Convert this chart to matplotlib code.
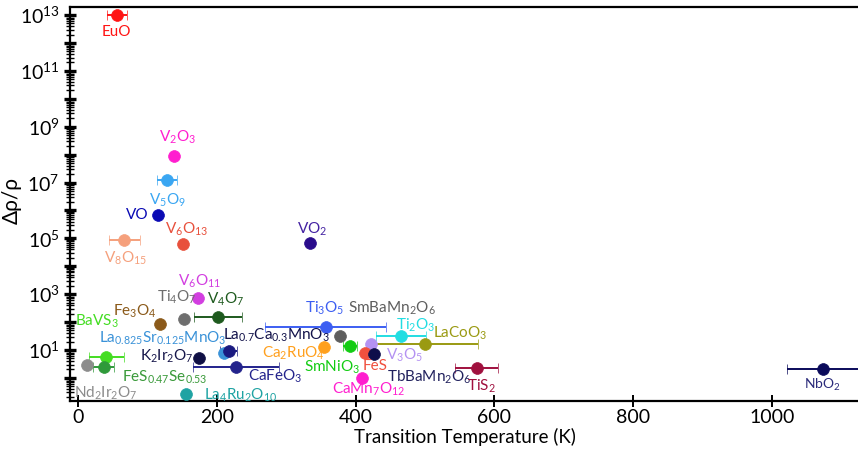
import numpy as np
import matplotlib
matplotlib.use("Agg")
import matplotlib.pyplot as plt
from matplotlib.ticker import FixedLocator, FuncFormatter, LogLocator, NullFormatter

plt.rcParams['font.family'] = ['Lato', 'DejaVu Sans']
plt.rcParams['mathtext.default'] = 'regular'

# ---- data ----
names = ["EuO", "V2O3", "V5O9", "VO", "V6O13", "V8O15", "VO2", "V6O11", "Ti4O7", "V4O7",
         "Fe3O4", "Ti3O5", "La0.825Sr0.125MnO3", "La0.7Ca0.3MnO3", "SmBaMn2O6", "Ca2RuO4",
         "SmNiO3", "K2Ir2O7", "BaVS3", "Nd2Ir2O7", "FeS0.47Se0.53", "CaFeO3", "La4Ru2O10",
         "Ti2O3", "LaCoO3", "V3O5", "FeS", "TbBaMn2O6", "CaMn7O12", "TiS2", "NbO2"]
labels = [r"EuO", r"$V_2O_3$", r"$V_5O_9$", r"VO", r"$V_6O_{13}$", r"$V_8O_{15}$", r"$VO_2$",
          r"$V_6O_{11}$", r"$Ti_4O_7$", r"$V_4O_7$", r"$Fe_3O_4$", r"$Ti_3O_5$",
          r"$La_{0.825}Sr_{0.125}MnO_3$", r"$La_{0.7}Ca_{0.3}MnO_3$", r"$SmBaMn_2O_6$",
          r"$Ca_2RuO_4$", r"$SmNiO_3$", r"$K_2Ir_2O_7$", r"$BaVS_3$", r"$Nd_2Ir_2O_7$",
          r"$FeS_{0.47}Se_{0.53}$", r"$CaFeO_3$", r"$La_4Ru_2O_{10}$", r"$Ti_2O_3$",
          r"$LaCoO_3$", r"$V_3O_5$", r"FeS", r"$TbBaMn_2O_6$", r"$CaMn_7O_{12}$", r"$TiS_2$",
          r"$NbO_2$"]
temperature = [56, 139, 128, 115, 151, 67, 334, 173, 153, 202,
               118, 357, 211, 217, 377, 354,
               392, 175, 41, 13, 37, 228, 155,
               466, 500, 423, 414, 426, 410, 575, 1073]
temp_err = [14, 0, 14, 0, 0, 22, 0, 5, 0, 35,
            0, 87, 0, 12, 0, 4,
            10, 0, 25, 0, 15, 62, 0,
            36, 76, 0, 0, 0, 0, 31, 51]
resistivity_ratio = [1.0e13, 8.9e7, 1.2e7, 6.8e5, 6.2e4, 8.7e4, 6.6e4, 7.1e2, 1.3e2, 1.55e2,
                     83, 69, 7.9, 9.5, 32, 13,
                     14, 5.1, 5.5, 2.9, 2.5, 2.5, 0.26,
                     32, 16.4, 16.4, 8.0, 7.1, 0.98, 2.2, 2.1]

# ---- styles ----
point_colors = ["#ff1414", "#ff1ecf", "#3aa6f2", "#0a0ab4", "#e8503c", "#f5a07c", "#2a0c8c",
                "#d23ee0", "#6e6e6e", "#1e5a1e", "#8b5a1a", "#3c5ef2", "#3a92d8", "#1a1a80",
                "#5e5e5e", "#ffa01e", "#12cc12", "#101045", "#44dd22", "#8c8c8c", "#2f9a3a",
                "#23238c", "#1fa3a3", "#22dde2", "#9a9a12", "#b492f2", "#f0503e", "#0e0e4a",
                "#ff1ecf", "#a0103e", "#0a0a5a"]
label_colors = ["#ff1414", "#ff1ecf", "#3aa6f2", "#0a0ab4", "#e8503c", "#f5a07c", "#4422a2",
                "#d23ee0", "#6e6e6e", "#1e5a1e", "#8b5a1a", "#3c5ef2", "#3a92d8", "#12124a",
                "#5e5e5e", "#ffa01e", "#12cc12", "#16164a", "#44dd22", "#8c8c8c", "#3a9a3a",
                "#23238c", "#1fa3a3", "#22dde2", "#9a9a12", "#b492f2", "#f0503e", "#22225e",
                "#ff1ecf", "#a0103e", "#2a2a7a"]
# label offsets in pixels (dx right, dy up) from the marker
offsets = [(0, -17), (3, 19), (1, -20), (-21, 0), (4, 15), (1, -18), (2, 14),
           (2, 17), (-7, 22), (7, 17), (-25, 13), (-1, 18),
           (-62, 14), (48, 15), (52, 28),
           (-30, -7), (-18, -21), (-33, 2), (-10, 36), (19, -28),
           (61, -11), (39, -10), (55, -1), (14, 11),
           (35, 11), (33, -11), (10, -13), (56, -23), (6, -11), (4, -18),
           (0, -16)]
label_sizes = [11] * len(names)
label_sizes[-1] = 10

fig = plt.figure(figsize=(8.58, 4.53), dpi=100)
ax = fig.add_axes([70 / 858, 52 / 453, 790 / 858, 394 / 453])
ax.set_yscale("log")
ax.set_xlim(-11.5, 1127)
ax.set_ylim(10 ** -0.83, 10 ** 13.29)

for i in range(len(names)):
    xe = temp_err[i] if temp_err[i] > 0 else None
    ax.errorbar(temperature[i], resistivity_ratio[i], xerr=xe, fmt='o', color=point_colors[i],
                ms=8.5, mec=point_colors[i], mew=0.5, elinewidth=1.4, capsize=3.5,
                capthick=1.4, zorder=3 + i * 0.01, clip_on=False)
    ax.annotate(labels[i], (temperature[i], resistivity_ratio[i]), xytext=offsets[i],
                textcoords='offset pixels', ha='center', va='center',
                color=label_colors[i], fontsize=label_sizes[i], zorder=10,
                annotation_clip=False)

# axes styling
ax.spines['right'].set_visible(False)
for s in ['left', 'bottom', 'top']:
    ax.spines[s].set_linewidth(1.6)
    ax.spines[s].set_color('black')

decades = [10.0 ** k for k in range(0, 14)]
ax.yaxis.set_major_locator(FixedLocator(decades))
ax.yaxis.set_major_formatter(FuncFormatter(
    lambda v, p: (r"$10^{%d}$" % round(np.log10(v))) if round(np.log10(v)) % 2 == 1 else ""))
ax.yaxis.set_minor_locator(LogLocator(base=10, subs=np.arange(2, 10), numticks=100))
ax.yaxis.set_minor_formatter(NullFormatter())
ax.tick_params(axis='y', which='major', direction='inout', length=9, width=2.4, labelsize=14,
               pad=3)
ax.tick_params(axis='y', which='minor', direction='inout', length=6, width=1.0)

ax.set_xticks([0, 200, 400, 600, 800, 1000])
ax.tick_params(axis='x', which='major', direction='inout', length=8, width=1.4, labelsize=14,
               pad=2)

ax.set_xlabel("Transition Temperature (K)", fontsize=13.5, labelpad=1)
ax.set_ylabel("Δρ/ρ", fontsize=15)
ax.yaxis.set_label_coords(-0.061, 0.51)

fig.savefig("out.png", dpi=100)
